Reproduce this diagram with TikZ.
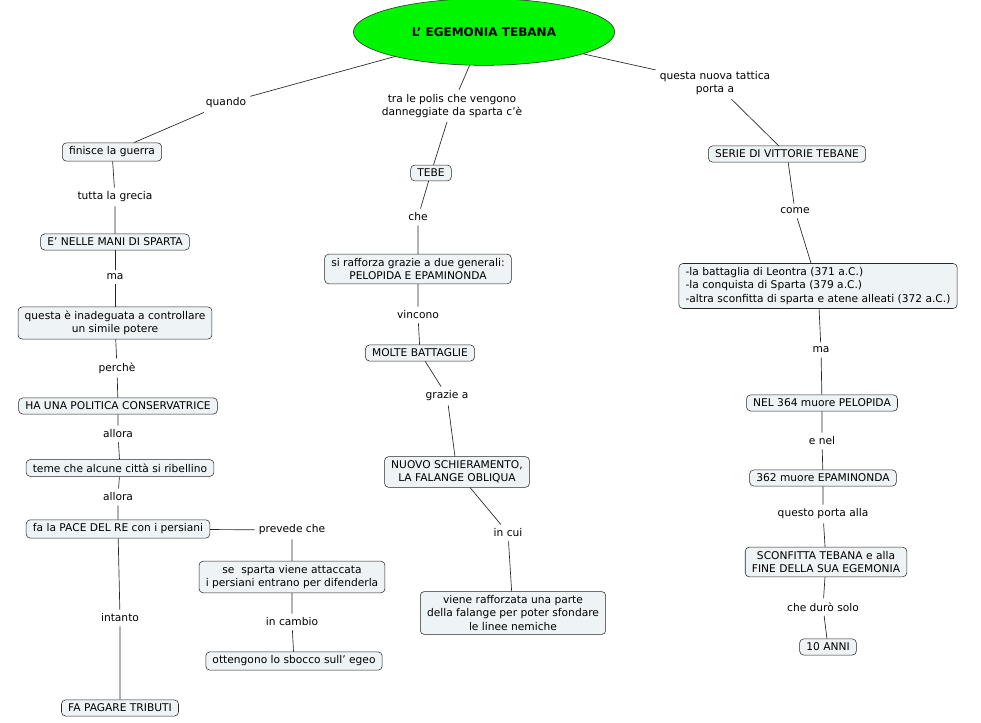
\documentclass[tikz,border=0pt]{standalone}
\usepackage{fontspec}
\setmainfont{DejaVu Sans}
\usetikzlibrary{shapes.geometric}
\begin{document}
\begin{tikzpicture}[x=0.75pt,y=-0.75pt,
 box/.style={draw=black!85,fill={rgb,255:red,238;green,243;blue,245},rounded corners=3pt,inner xsep=5pt,inner ysep=3pt,font=\fontsize{8}{10}\selectfont,align=center},
 lab/.style={font=\fontsize{8}{10}\selectfont,align=center,inner sep=3pt,fill=white},
 ln/.style={draw=black!85,line width=0.5pt}]
\useasboundingbox (0,0) rectangle (981,723);
\node[ellipse,draw=black!85,fill={rgb,255:red,0;green,245;blue,0},minimum width=196,minimum height=50,font=\fontsize{9}{11}\selectfont\bfseries] (t) at (484,32) {L' EGEMONIA TEBANA};
% left
\node[box] (a1) at (112,152) {finisce la guerra};
\node[box] (a2) at (115,242) {E' NELLE MANI DI SPARTA};
\node[box] (a3) at (115,323) {questa è inadeguata a controllare\\un simile potere};
\node[box] (a4) at (118,406) {HA UNA POLITICA CONSERVATRICE};
\node[box] (a5) at (120,468) {teme che alcune città si ribellino};
\node[box] (a6) at (118,529) {fa la PACE DEL RE con i persiani};
\node[box] (a7) at (292,577) {se\ \ sparta viene attaccata\\i persiani entrano per difenderla};
\node[box] (a8) at (294,661) {ottengono lo sbocco sull' egeo};
\node[box] (a9) at (120,708) {FA PAGARE TRIBUTI};
% middle
\node[box] (b1) at (431,173) {TEBE};
\node[box] (b2) at (418,269) {si rafforza grazie a due generali:\\PELOPIDA E EPAMINONDA};
\node[box] (b3) at (420,353) {MOLTE BATTAGLIE};
\node[box] (b4) at (457,472) {NUOVO SCHIERAMENTO,\\LA FALANGE OBLIQUA};
\node[box] (b5) at (513,613) {viene rafforzata una parte\\della falange per poter sfondare\\le linee nemiche};
% right
\node[box] (c1) at (787,154) {SERIE DI VITTORIE TEBANE};
\node[box,align=left] (c2) at (818,286) {-la battaglia di Leontra (371 a.C.)\\-la conquista di Sparta (379 a.C.)\\-altra sconfitta di sparta e atene alleati (372 a.C.)};
\node[box] (c3) at (822,403) {NEL 364 muore PELOPIDA};
\node[box] (c4) at (823,478) {362 muore EPAMINONDA};
\node[box] (c5) at (826,562) {SCONFITTA TEBANA e alla\\FINE DELLA SUA EGEMONIA};
\node[box] (c6) at (828,647) {10 ANNI};
% labels
\node[lab] (l1) at (226,103) {quando};
\node[lab] (l2) at (452,106) {tra le polis che vengono\\danneggiate da sparta c'è};
\node[lab] (l3) at (715,83) {questa nuova tattica\\porta a};
\node[lab] (l4) at (115,197) {tutta la grecia};
\node[lab] (l5) at (115,277) {ma};
\node[lab] (l6) at (117,368) {perchè};
\node[lab] (l7) at (118,434) {allora};
\node[lab] (l8) at (118,497) {allora};
\node[lab] (l9) at (292,530) {prevede che};
\node[lab] (l10) at (120,618) {intanto};
\node[lab] (l11) at (292,622) {in cambio};
\node[lab] (l12) at (418,217) {che};
\node[lab] (l13) at (418,315) {vincono};
\node[lab] (l14) at (447,396) {grazie a};
\node[lab] (l15) at (508,533) {in cui};
\node[lab] (l16) at (795,211) {come};
\node[lab] (l17) at (821,350) {ma};
\node[lab] (l18) at (822,441) {e nel};
\node[lab] (l19) at (823,514) {questo porta alla};
\node[lab] (l20) at (823,607) {che durò solo};
\begin{scope}[on background layer/.style={}]
\draw[ln] (t) -- (l1) -- (a1);
\draw[ln] (t) -- (l2) -- (b1);
\draw[ln] (t) -- (l3) -- (c1);
\draw[ln] (a1) -- (l4) -- (a2);
\draw[ln] (a2) -- (l5) -- (a3);
\draw[ln] (a3) -- (l6) -- (a4);
\draw[ln] (a4) -- (l7) -- (a5);
\draw[ln] (a5) -- (l8) -- (a6);
\draw[ln] (a6) -- (l9) -- (a7);
\draw[ln] (a6) -- (l10) -- (a9);
\draw[ln] (a7) -- (l11) -- (a8);
\draw[ln] (b1) -- (l12) -- (b2);
\draw[ln] (b2) -- (l13) -- (b3);
\draw[ln] (b3) -- (l14) -- (b4);
\draw[ln] (b4) -- (l15) -- (b5);
\draw[ln] (c1) -- (l16) -- (c2);
\draw[ln] (c2) -- (l17) -- (c3);
\draw[ln] (c3) -- (l18) -- (c4);
\draw[ln] (c4) -- (l19) -- (c5);
\draw[ln] (c5) -- (l20) -- (c6);
\end{scope}
\end{tikzpicture}
\end{document}
